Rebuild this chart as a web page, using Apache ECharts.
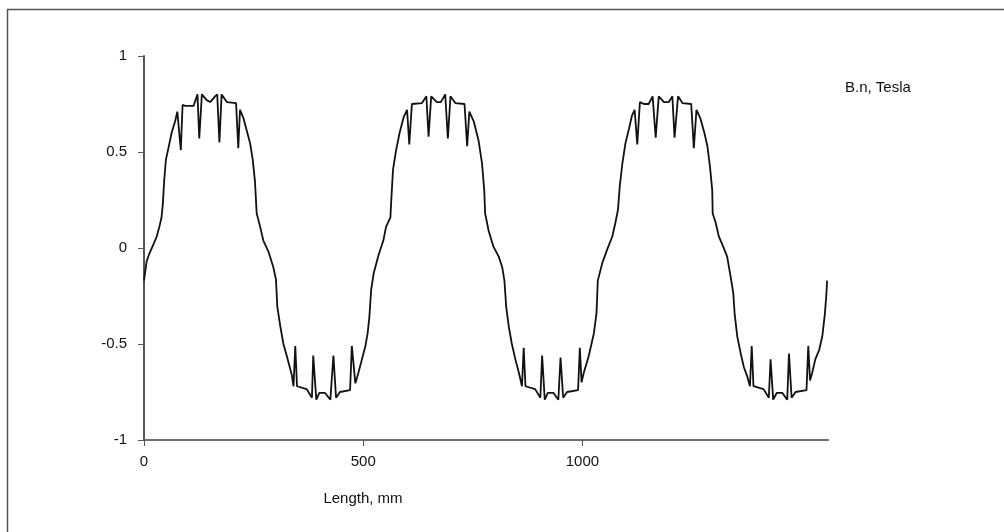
<!DOCTYPE html>
<html>
<head>
<meta charset="utf-8">
<script src="https://cdn.jsdelivr.net/npm/echarts@6/dist/echarts.min.js"></script>
<style>
  html, body { margin: 0; padding: 0; background: #fff; }
  #chart { width: 1004px; height: 532px; }
</style>
</head>
<body>
<div id="chart"></div>
<script>
// position along the machine, mm
const lengthMm = [
  0, 6, 12, 21, 29, 35, 40, 43, 46, 50, 58, 63, 71, 76, 78, 84, 88, 94, 113, 122,
  126, 132, 143, 151, 162, 167, 172, 177, 189, 210, 215, 219, 227, 234, 242, 248, 253, 257, 265, 272,
  284, 295, 301, 304, 311, 318, 326, 337, 341, 345, 349, 352, 371, 383, 386, 393, 400, 413, 425, 432,
  438, 447, 470, 474, 482, 489, 497, 505, 510, 514, 518, 524, 535, 546, 552, 562, 564, 568, 575, 583,
  592, 600, 605, 611, 634, 644, 649, 655, 668, 677, 687, 693, 699, 710, 731, 737, 742, 752, 763, 771,
  776, 778, 786, 797, 809, 817, 822, 826, 832, 839, 847, 855, 862, 866, 870, 873, 892, 904, 908, 914,
  921, 934, 945, 950, 956, 965, 990, 994, 998, 1003, 1014, 1026, 1032, 1035, 1045, 1056, 1068, 1075, 1081, 1085,
  1091, 1098, 1106, 1113, 1119, 1125, 1131, 1140, 1151, 1160, 1167, 1174, 1186, 1197, 1205, 1210, 1218, 1228, 1248, 1254,
  1260, 1269, 1278, 1285, 1291, 1296, 1297, 1304, 1311, 1321, 1330, 1338, 1344, 1347, 1353, 1361, 1368, 1376, 1382, 1386,
  1390, 1393, 1413, 1425, 1429, 1435, 1443, 1456, 1467, 1471, 1477, 1486, 1511, 1515, 1519, 1524, 1531, 1540, 1547, 1553,
  1556, 1558
]

// normal flux density B.n, Tesla
const bNormal = [
  -0.17, -0.07, -0.03, 0.016, 0.06, 0.11, 0.16, 0.23, 0.35, 0.46, 0.545, 0.60, 0.66, 0.71, 0.72, 0.51, 0.745, 0.74, 0.74, 0.80,
  0.57, 0.80, 0.77, 0.76, 0.79, 0.80, 0.55, 0.80, 0.76, 0.755, 0.52, 0.72, 0.675, 0.615, 0.545, 0.46, 0.35, 0.18, 0.11, 0.04,
  -0.02, -0.10, -0.165, -0.305, -0.41, -0.50, -0.565, -0.66, -0.72, -0.51, -0.72, -0.73, -0.735, -0.78, -0.56, -0.79, -0.755, -0.755, -0.79, -0.56,
  -0.78, -0.75, -0.74, -0.51, -0.705, -0.65, -0.58, -0.51, -0.445, -0.36, -0.22, -0.13, -0.036, 0.04, 0.11, 0.16, 0.25, 0.41, 0.51, 0.60,
  0.68, 0.72, 0.54, 0.75, 0.755, 0.79, 0.58, 0.79, 0.76, 0.76, 0.80, 0.57, 0.79, 0.755, 0.75, 0.53, 0.71, 0.66, 0.56, 0.44,
  0.30, 0.18, 0.09, 0.007, -0.045, -0.10, -0.17, -0.305, -0.41, -0.50, -0.58, -0.65, -0.72, -0.52, -0.72, -0.73, -0.735, -0.78, -0.56, -0.79,
  -0.755, -0.755, -0.79, -0.57, -0.78, -0.75, -0.74, -0.52, -0.70, -0.65, -0.565, -0.445, -0.34, -0.17, -0.08, -0.01, 0.06, 0.13, 0.20, 0.32,
  0.44, 0.545, 0.62, 0.69, 0.72, 0.54, 0.76, 0.75, 0.75, 0.79, 0.575, 0.79, 0.76, 0.76, 0.79, 0.575, 0.79, 0.755, 0.75, 0.52,
  0.72, 0.675, 0.60, 0.53, 0.42, 0.30, 0.18, 0.13, 0.06, 0.007, -0.045, -0.15, -0.235, -0.34, -0.46, -0.55, -0.62, -0.67, -0.72, -0.51,
  -0.72, -0.73, -0.735, -0.78, -0.58, -0.79, -0.755, -0.755, -0.79, -0.55, -0.78, -0.75, -0.74, -0.51, -0.69, -0.65, -0.58, -0.53, -0.46, -0.34,
  -0.25, -0.17
]

const xTicks = [0, 500, 1000]
const yTicks = [-1, -0.5, 0, 0.5, 1]

const chart = echarts.init(document.getElementById('chart'))
const font = 'Liberation Sans, Arial, sans-serif'

chart.setOption({
  animation: false,
  backgroundColor: '#fff',
  grid: {
    left: 144,
    top: 56,
    width: 684,
    height: 384,
  },
  xAxis: {
    type: 'value',
    min: 0,
    max: 1560,
    interval: 500,
    axisLine: {
      onZero: false,
      lineStyle: { color: '#6e6e6e', width: 2 },
    },
    axisTick: {
      customValues: xTicks,
      length: 6,
      lineStyle: { color: '#555', width: 1 },
    },
    axisLabel: {
      customValues: xTicks,
      formatter: (v) => String(v),
      margin: 14,
      color: '#111',
      fontSize: 15,
      fontFamily: font,
    },
    splitLine: { show: false },
  },
  yAxis: {
    type: 'value',
    min: -1,
    max: 1,
    interval: 0.5,
    axisLine: {
      show: true,
      onZero: false,
      lineStyle: { color: '#555', width: 2 },
    },
    axisTick: {
      show: true,
      customValues: yTicks,
      length: 6,
      lineStyle: { color: '#555', width: 1 },
    },
    axisLabel: {
      customValues: yTicks,
      formatter: (v) => String(v),
      margin: 17,
      color: '#111',
      fontSize: 15,
      fontFamily: font,
    },
    splitLine: { show: false },
  },
  graphic: [
    {
      type: 'rect',
      shape: { x: 7.5, y: 9.5, width: 1100, height: 600 },
      style: { fill: 'none', stroke: '#555', lineWidth: 1.5 },
      silent: true,
    },
    {
      type: 'text',
      left: 845,
      top: 80,
      style: { text: 'B.n, Tesla', fill: '#111', font: '15px ' + font },
    },
    {
      type: 'text',
      x: 363,
      y: 499,
      style: {
        text: 'Length, mm',
        fill: '#111',
        font: '15px ' + font,
        align: 'center',
        verticalAlign: 'middle',
      },
    },
  ],
  series: [{
    type: 'line',
    data: lengthMm.map((x, i) => [x, bNormal[i]]),
    showSymbol: false,
    lineStyle: { color: '#111', width: 1.8 },
  }],
})
</script>
</body>
</html>
